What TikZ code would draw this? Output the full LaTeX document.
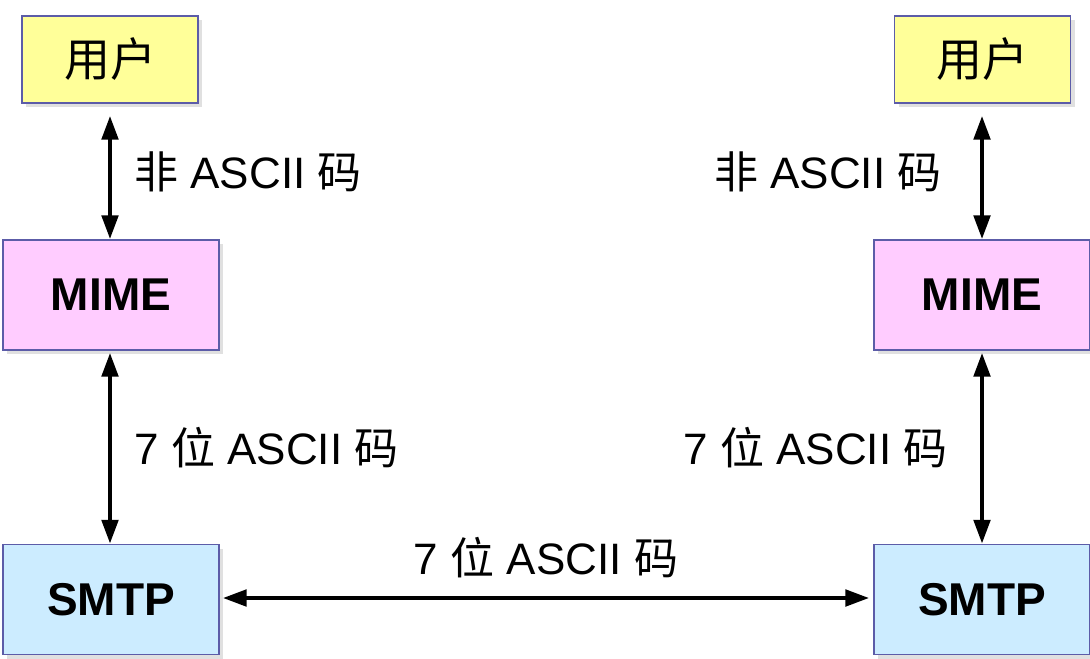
\documentclass[tikz,border=0pt]{standalone}
\usepackage{fontspec}
\setmainfont{Liberation Sans}
\newfontfamily\cjk{Noto Sans CJK SC}
\usetikzlibrary{arrows.meta,positioning,shadows}
\definecolor{userfill}{HTML}{FFFF99}
\definecolor{mimefill}{HTML}{FFCCFF}
\definecolor{smtpfill}{HTML}{CCECFF}
\definecolor{boxline}{HTML}{5C5CA8}

\begin{document}
\begin{tikzpicture}[x=0.5pt,y=-0.5pt,
    box/.style={draw=boxline,line width=0.6pt,minimum width=108pt,minimum height=55pt,inner sep=0pt,
        font=\fontsize{23}{27}\selectfont\bfseries,
        drop shadow={shadow xshift=2pt,shadow yshift=-2pt,fill=black!12,opacity=1}},
    userbox/.style={box,fill=userfill,minimum width=88pt,minimum height=43.5pt},
    link/.style={{Triangle[length=12pt,width=8pt]}-{Triangle[length=12pt,width=8pt]},line width=2.4pt},
    lab/.style={font=\fontsize{22}{26}\selectfont,inner sep=0pt}]
    \useasboundingbox (0,0) rectangle (1090,658);
    \clip (0,0) rectangle (1090,658);
    % left side
    \node[userbox] (u1) at (110,59.5) {\cjk\mdseries 用户};
    \node[box,fill=mimefill] (m1) at (111,295) {MIME};
    \node[box,fill=smtpfill] (s1) at (111,599.5) {SMTP};
    % right side
    \node[userbox] (u2) at (982.5,59.5) {\cjk\mdseries 用户};
    \node[box,fill=mimefill] (m2) at (982,295) {MIME};
    \node[box,fill=smtpfill] (s2) at (982,599.5) {SMTP};
    % connectors
    \draw[link,shorten <=6pt] (u1.south) -- node[lab,right=11pt] (t1) {{\cjk 非} ASCII {\cjk 码}} (u1.south |- m1.north);
    \draw[link,shorten <=1pt] (u1.south |- m1.south) -- node[lab,right=11pt] (t2) {7 {\cjk 位} ASCII {\cjk 码}} (u1.south |- s1.north);
    \draw[link,shorten <=6pt] (m2.north |- u2.south) -- node[lab,left=19pt] (t3) {{\cjk 非} ASCII {\cjk 码}} (m2.north);
    \draw[link,shorten <=1pt] (m2.south) -- node[lab,left=16pt] (t4) {7 {\cjk 位} ASCII {\cjk 码}} (s2.north);
    \draw[link] ([xshift=1.5pt,yshift=0.75pt]s1.east) -- node[lab,above=9pt] (t5) {7 {\cjk 位} ASCII {\cjk 码}} ([xshift=-2pt,yshift=0.75pt]s2.west);
\end{tikzpicture}
\end{document}
